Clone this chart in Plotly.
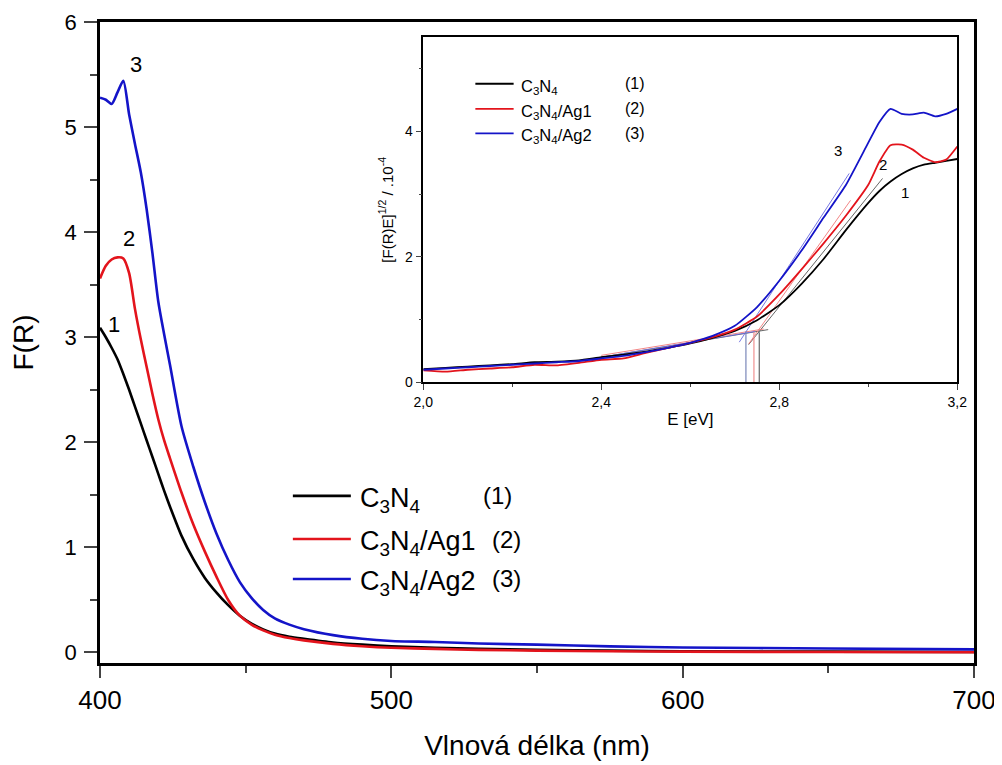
import plotly.graph_objects as go

# ---------------- main chart data ----------------
wavelength = [400, 402, 404, 406, 408, 410, 412, 414, 416, 418, 420, 422, 424, 428, 432, 436,
              440, 444, 448, 452, 456, 460, 465, 470, 480, 490, 500, 515, 530, 550, 575, 600, 650, 700]
fr_c3n4 = [3.09, 3.00, 2.90, 2.79, 2.65, 2.50, 2.34, 2.18, 2.02, 1.86, 1.70, 1.54, 1.39, 1.11, 0.89, 0.71,
           0.57, 0.45, 0.35, 0.275, 0.22, 0.18, 0.15, 0.13, 0.095, 0.075, 0.06, 0.045, 0.035, 0.025, 0.018,
           0.012, 0.008, 0.005]
fr_ag1 = [3.56, 3.68, 3.74, 3.76, 3.75, 3.61, 3.27, 2.98, 2.72, 2.46, 2.22, 2.02, 1.85, 1.52, 1.22, 0.96,
          0.72, 0.50, 0.35, 0.265, 0.21, 0.17, 0.138, 0.115, 0.082, 0.06, 0.045, 0.034, 0.025, 0.018, 0.012,
          0.008, 0.004, 0.002]
fr_ag2 = [5.28, 5.26, 5.22, 5.33, 5.44, 5.12, 4.84, 4.57, 4.22, 3.80, 3.34, 3.03, 2.74, 2.15, 1.77, 1.43,
          1.13, 0.88, 0.67, 0.52, 0.405, 0.325, 0.265, 0.222, 0.165, 0.13, 0.11, 0.10, 0.085, 0.075, 0.058,
          0.048, 0.038, 0.03]

series_names = ["C<sub>3</sub>N<sub>4</sub>", "C<sub>3</sub>N<sub>4</sub>/Ag1", "C<sub>3</sub>N<sub>4</sub>/Ag2"]
series_tags = ["(1)", "(2)", "(3)"]
series_colors = ["#000000", "#e3141c", "#1414c8"]

# curve number labels (main)
main_label_x = [404.8, 410.0, 412.4]
main_label_y = [3.12, 3.94, 5.60]

# legend placement in data units (main)
main_leg_x0, main_leg_x1 = 466.2, 486.1
main_leg_y = [1.49, 1.08, 0.70]

# ---------------- inset data ----------------
energy = [2.0, 2.05, 2.1, 2.15, 2.2, 2.25, 2.3, 2.35, 2.4, 2.45, 2.5, 2.55, 2.6, 2.65, 2.7,
          2.75, 2.8, 2.85, 2.9, 2.95, 3.0, 3.025, 3.05, 3.075, 3.1, 3.125, 3.15, 3.175, 3.2]
fe_c3n4 = [0.21, 0.23, 0.25, 0.27, 0.29, 0.32, 0.33, 0.35, 0.40, 0.44, 0.49, 0.55, 0.62, 0.71, 0.82,
           0.99, 1.23, 1.57, 1.97, 2.43, 2.86, 3.05, 3.20, 3.32, 3.41, 3.47, 3.50, 3.53, 3.56]
fe_ag1 = [0.19, 0.17, 0.20, 0.22, 0.24, 0.28, 0.27, 0.31, 0.36, 0.38, 0.47, 0.55, 0.63, 0.72, 0.84,
          1.05, 1.40, 1.80, 2.22, 2.66, 3.15, 3.52, 3.78, 3.79, 3.71, 3.58, 3.51, 3.55, 3.76]
fe_ag2 = [0.20, 0.22, 0.24, 0.26, 0.28, 0.30, 0.32, 0.34, 0.38, 0.42, 0.48, 0.55, 0.63, 0.74, 0.90,
          1.20, 1.62, 2.10, 2.63, 3.15, 3.82, 4.15, 4.36, 4.28, 4.27, 4.30, 4.24, 4.28, 4.36]

# tangent (fit) lines: rising edge and baseline, and band-gap drop lines
rise_x = [[2.731, 3.032], [2.731, 2.960], [2.710, 2.957]]
rise_y = [[0.60, 3.25], [0.61, 2.90], [0.64, 3.33]]
base_x = [[2.40, 2.775], [2.40, 2.765], [2.40, 2.745]]
base_y = [[0.40, 0.84], [0.43, 0.85], [0.40, 0.81]]
gap_energy = [2.755, 2.743, 2.725]
gap_top = [0.80, 0.83, 0.81]
thin_colors = ["#555555", "#f07878", "#6a6ae0"]
drop_colors = ["#666666", "#f09090", "#7a86b8"]

inset_label_x = [3.083, 3.033, 2.931]
inset_label_y = [3.02, 3.47, 3.69]

inset_leg_x0, inset_leg_x1 = 2.117, 2.203
inset_leg_y = [4.76, 4.36, 3.97]

inset_xticks = [2.0, 2.4, 2.8, 3.2]
inset_xticktext = ["2,0", "2,4", "2,8", "3,2"]

FONT = "Arial, Liberation Sans, sans-serif"

fig = go.Figure()

main_series = [fr_c3n4, fr_ag1, fr_ag2]
for vals, col in zip(main_series, series_colors):
    fig.add_trace(go.Scatter(x=wavelength, y=vals, mode="lines",
                             line=dict(color=col, width=2.6, shape="spline", smoothing=0.7),
                             xaxis="x", yaxis="y", hoverinfo="skip"))

inset_series = [fe_c3n4, fe_ag1, fe_ag2]
for i in range(3):
    fig.add_trace(go.Scatter(x=rise_x[i], y=rise_y[i], mode="lines",
                             line=dict(color=thin_colors[i], width=0.9),
                             xaxis="x2", yaxis="y2", hoverinfo="skip"))
    fig.add_trace(go.Scatter(x=base_x[i], y=base_y[i], mode="lines",
                             line=dict(color=thin_colors[i], width=0.9),
                             xaxis="x2", yaxis="y2", hoverinfo="skip"))
    fig.add_trace(go.Scatter(x=[gap_energy[i], gap_energy[i]], y=[0, gap_top[i]], mode="lines",
                             line=dict(color=drop_colors[i], width=1.2),
                             xaxis="x2", yaxis="y2", hoverinfo="skip"))
for vals, col in zip(inset_series, series_colors):
    fig.add_trace(go.Scatter(x=energy, y=vals, mode="lines",
                             line=dict(color=col, width=1.8, shape="spline", smoothing=0.5),
                             xaxis="x2", yaxis="y2", hoverinfo="skip"))

annotations = []
shapes = []
for i in range(3):
    annotations.append(dict(x=main_label_x[i], y=main_label_y[i], xref="x", yref="y",
                            text=str(i + 1), showarrow=False, font=dict(size=22, color="black", family=FONT)))
    annotations.append(dict(x=inset_label_x[i], y=inset_label_y[i], xref="x2", yref="y2",
                            text=str(i + 1), showarrow=False, font=dict(size=15, color="black", family=FONT)))
    # main legend
    shapes.append(dict(type="line", xref="x", yref="y", x0=main_leg_x0, x1=main_leg_x1,
                       y0=main_leg_y[i], y1=main_leg_y[i], line=dict(color=series_colors[i], width=2.6)))
    annotations.append(dict(x=main_leg_x1 + 2.5, y=main_leg_y[i], xref="x", yref="y", xanchor="left",
                            yanchor="middle", yshift=-4, text=series_names[i], showarrow=False,
                            font=dict(size=27, color="black", family=FONT)))
    annotations.append(dict(x=536.5 if i == 0 else 539.5, y=main_leg_y[i], xref="x", yref="y",
                            xanchor="center", yanchor="middle", text=series_tags[i], showarrow=False,
                            font=dict(size=24, color="black", family=FONT)))
    # inset legend
    shapes.append(dict(type="line", xref="x2", yref="y2", x0=inset_leg_x0, x1=inset_leg_x1,
                       y0=inset_leg_y[i], y1=inset_leg_y[i], line=dict(color=series_colors[i], width=1.8)))
    annotations.append(dict(x=inset_leg_x1 + 0.012, y=inset_leg_y[i], xref="x2", yref="y2", xanchor="left",
                            yanchor="middle", yshift=-3, text=series_names[i], showarrow=False,
                            font=dict(size=16.5, color="black", family=FONT)))
    annotations.append(dict(x=2.476, y=inset_leg_y[i], xref="x2", yref="y2", xanchor="center",
                            yanchor="middle", text=series_tags[i], showarrow=False,
                            font=dict(size=16, color="black", family=FONT)))

# the page body has an 8px margin, so the figure is sized/offset to land on the reference pixels
fig.update_layout(
    width=994, height=757,
    margin=dict(l=92, r=28, t=14, b=102),
    paper_bgcolor="white", plot_bgcolor="white",
    showlegend=False,
    font=dict(family=FONT, color="black"),
    xaxis=dict(domain=[0, 1], range=[400, 700], anchor="y", automargin=False,
               tickvals=[400, 500, 600, 700], ticks="outside", ticklen=12, tickwidth=2,
               ticklabelstandoff=0,
               minor=dict(tickvals=[450, 550, 650], ticks="outside", ticklen=7, tickwidth=2),
               showline=True, linewidth=2.5, linecolor="black", mirror=True,
               showgrid=False, zeroline=False, tickfont=dict(size=26),
               title=dict(text="Vlnová délka (nm)", font=dict(size=28), standoff=22)),
    yaxis=dict(domain=[0, 1], range=[-0.1, 6], anchor="x", automargin=False,
               tickvals=[0, 1, 2, 3, 4, 5, 6], ticks="outside", ticklen=13, tickwidth=2,
               ticklabelstandoff=3,
               minor=dict(tickvals=[0.5, 1.5, 2.5, 3.5, 4.5, 5.5], ticks="outside", ticklen=7, tickwidth=2),
               showline=True, linewidth=2.5, linecolor="black", mirror=True,
               showgrid=False, zeroline=False, tickfont=dict(size=22),
               title=dict(text="F(R)", font=dict(size=28), standoff=26)),
    xaxis2=dict(domain=[0.3699, 0.9809], range=[2.0, 3.2], anchor="y2", automargin=False,
                tickvals=inset_xticks, ticktext=inset_xticktext, ticks="outside", ticklen=6, tickwidth=1.2,
                minor=dict(tickvals=[2.2, 2.6, 3.0], ticks="outside", ticklen=3, tickwidth=1.2),
                showline=True, linewidth=1.5, linecolor="black", mirror=True,
                showgrid=False, zeroline=False, tickfont=dict(size=14),
                title=dict(text="E [eV]", font=dict(size=17), standoff=4)),
    yaxis2=dict(domain=[0.4379, 0.9761], range=[0, 5.5], anchor="x2", automargin=False,
                tickvals=[0, 2, 4], ticks="outside", ticklen=6, tickwidth=1.2,
                minor=dict(tickvals=[1, 3, 5], ticks="outside", ticklen=3, tickwidth=1.2),
                showline=True, linewidth=1.5, linecolor="black", mirror=True,
                showgrid=False, zeroline=False, tickfont=dict(size=14),
                title=dict(text="[F(R)E]<sup>1/2</sup> / .10<sup>-4</sup>", font=dict(size=15), standoff=8)),
    annotations=annotations,
    shapes=shapes,
)

fig.write_html("out.html")
